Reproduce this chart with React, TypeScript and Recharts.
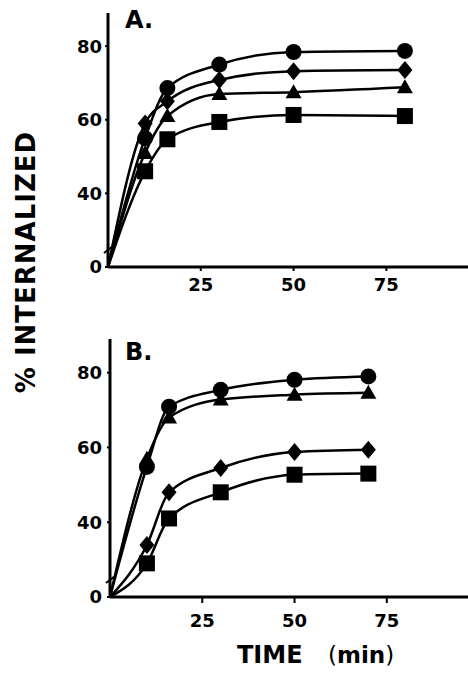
import React from 'react';
import { LineChart, Line, XAxis, YAxis } from 'recharts';

// panel A
const TIMES_A = [0, 10, 16, 30, 50, 80];
const A_CIRCLE = [0, 55, 68.6, 75, 78.4, 78.7];
const A_DIAMOND = [0, 59, 65, 70.8, 73.2, 73.5];
const A_TRIANGLE = [0, 51, 61, 67, 67.5, 68.8];
const A_SQUARE = [0, 46, 54.7, 59.4, 61.3, 61];

// panel B
const TIMES_B = [0, 10, 16, 30, 50, 70];
const B_CIRCLE = [0, 54.8, 70.9, 75.4, 78.1, 79];
const B_TRIANGLE = [0, 57, 68, 72.8, 74.1, 74.6];
const B_DIAMOND = [0, 33.9, 48, 54.5, 58.8, 59.4];
const B_SQUARE = [0, 29, 41, 48, 52.7, 53];

const X_TICKS = [25, 50, 75];
const Y_TICKS = [20, 40, 60, 80];
const AXIS_FLOOR = 20; // axis is broken below this, labelled 0

const FONT = '"DejaVu Sans", sans-serif';

// values under the break collapse onto the origin
const brk = (v: number) => Math.max(v, AXIS_FLOOR);

function buildRows(times: number[], circle: number[], diamond: number[], triangle: number[], square: number[]) {
  return times.map((t, i) => ({
    t,
    circle: brk(circle[i]),
    diamond: brk(diamond[i]),
    triangle: brk(triangle[i]),
    square: brk(square[i]),
  }));
}

const dataA = buildRows(TIMES_A, A_CIRCLE, A_DIAMOND, A_TRIANGLE, A_SQUARE);
const dataB = buildRows(TIMES_B, B_CIRCLE, B_DIAMOND, B_TRIANGLE, B_SQUARE);

const makeDot = (shape: string) => (props: any) => {
  const { cx, cy, index } = props;
  const key = `${shape}-${index}`;
  if (index === 0 || cx == null || cy == null) return <g key={key} />;
  if (shape === 'circle') return <circle key={key} cx={cx} cy={cy} r={8} fill="#000" />;
  if (shape === 'square') return <rect key={key} x={cx - 8} y={cy - 8} width={16} height={16} fill="#000" />;
  if (shape === 'diamond')
    return <polygon key={key} points={`${cx},${cy - 9} ${cx + 7.5},${cy} ${cx},${cy + 9} ${cx - 7.5},${cy}`} fill="#000" />;
  return <polygon key={key} points={`${cx},${cy - 8} ${cx + 8},${cy + 6} ${cx - 8},${cy + 6}`} fill="#000" />;
};

const tickStyle = { fill: '#000', fontSize: 18, fontWeight: 700, fontFamily: FONT };
const axisLine = { stroke: '#000', strokeWidth: 3 };
const SERIES = ['square', 'triangle', 'diamond', 'circle'];

function Panel({ data, yAxisWidth, top, height, marginTop, xTickSize, xTickMargin, yTickMargin }: any) {
  return (
    <div style={{ position: 'absolute', left: 0, top }}>
      <LineChart width={468} height={height} data={data} margin={{ top: marginTop, right: 0, bottom: 0, left: 0 }}>
        <XAxis
          dataKey="t"
          type="number"
          domain={[0, 97]}
          ticks={X_TICKS}
          height={33}
          tick={tickStyle}
          axisLine={axisLine}
          tickLine={{ stroke: '#000', strokeWidth: 2 }}
          tickSize={xTickSize}
          tickMargin={xTickMargin}
        />
        <YAxis
          type="number"
          domain={[AXIS_FLOOR, 89]}
          ticks={Y_TICKS}
          width={yAxisWidth}
          tick={tickStyle}
          tickFormatter={(v: number) => (v === AXIS_FLOOR ? '0' : String(v))}
          axisLine={axisLine}
          tickLine={{ stroke: '#000', strokeWidth: 2 }}
          tickSize={3}
          tickMargin={yTickMargin}
        />
        {SERIES.map(s => (
          <Line
            key={s}
            dataKey={s}
            type="monotone"
            stroke="#000"
            strokeWidth={2.5}
            dot={makeDot(s)}
            activeDot={false}
            isAnimationActive={false}
          />
        ))}
      </LineChart>
    </div>
  );
}

export default function App() {
  return (
    <div style={{ position: 'absolute', left: 0, top: 0, width: 468, height: 678, background: '#fff' }}>
      <Panel data={dataA} yAxisWidth={108} top={0} height={300} marginTop={13} xTickSize={4} xTickMargin={7} yTickMargin={3} />
      <Panel data={dataB} yAxisWidth={110} top={310} height={320} marginTop={29} xTickSize={6} xTickMargin={11} yTickMargin={5} />
      <svg width={468} height={678} style={{ position: 'absolute', left: 0, top: 0, pointerEvents: 'none' }}>
        <g fontFamily={FONT} fontWeight={700} fill="#000">
          <text x={125} y={28} fontSize={24}>A.</text>
          <text x={125} y={360} fontSize={24}>B.</text>
          <text x={35} y={262} fontSize={26} letterSpacing={1} textAnchor="middle" transform="rotate(-90 35 262)">
            % INTERNALIZED
          </text>
          <text x={237} y={663} fontSize={24}>TIME</text>
          <text x={328} y={663} fontSize={23}>
            <tspan fontWeight={400}>(</tspan>min<tspan fontWeight={400}>)</tspan>
          </text>
        </g>
        <line x1={104} y1={253} x2={113} y2={246} stroke="#000" strokeWidth={2} />
        <line x1={106} y1={583} x2={115} y2={576} stroke="#000" strokeWidth={2} />
      </svg>
    </div>
  );
}
